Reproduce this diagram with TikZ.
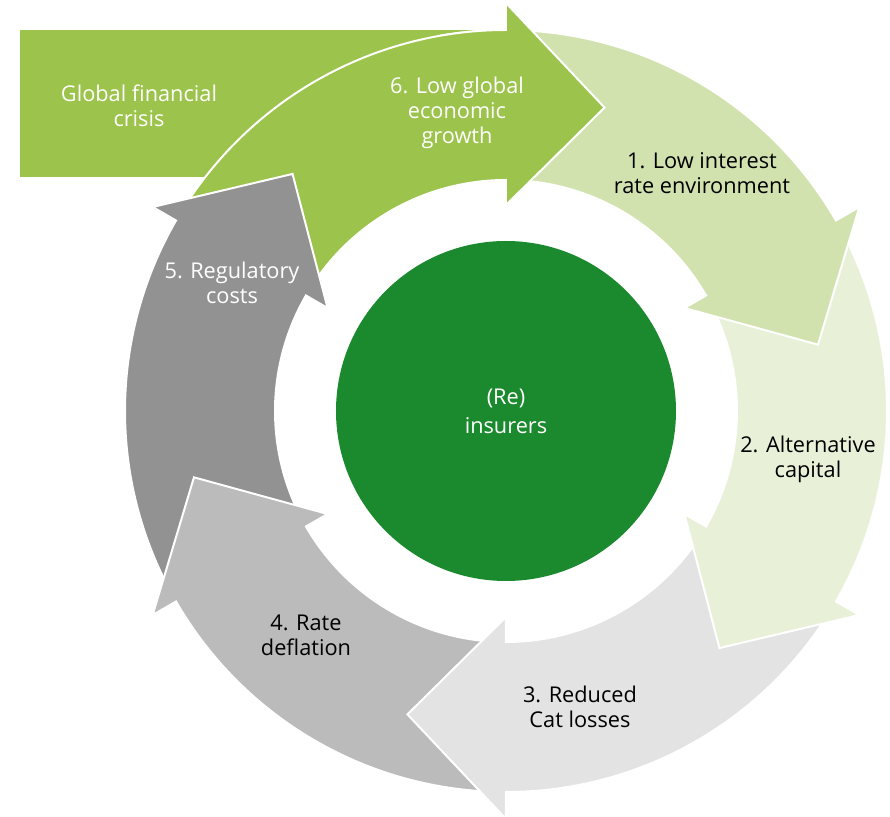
\documentclass[tikz,border=0pt]{standalone}
\usepackage{fontspec}
\setmainfont{Open Sans}
\definecolor{cGreen}{HTML}{9CC34B}
\definecolor{cOne}{HTML}{D2E2AE}
\definecolor{cTwo}{HTML}{E8F1D8}
\definecolor{cThree}{HTML}{E3E3E3}
\definecolor{cFour}{HTML}{BBBBBB}
\definecolor{cFive}{HTML}{929292}
\definecolor{cCore}{HTML}{1B8A2E}
\newcommand\rIn{231}
\newcommand\rOut{381}
\newcommand\bIn{206}
\newcommand\bOut{408}
\newcommand\rTip{319}
\newcommand\hSpan{18}
\newcommand\cyclearrow[2]{%
  \path[fill=#2, draw=white, line width=1.5pt, line join=miter]
    ({#1+58.5}:\rOut) arc[start angle={#1+58.5}, end angle={#1}, radius=\rOut]
    -- ({#1}:\bOut) -- ({#1-\hSpan}:\rTip) -- ({#1}:\bIn) -- ({#1}:\rIn)
    arc[start angle={#1}, end angle={#1+58.5}, radius=\rIn] -- cycle;}
\begin{document}
\begin{tikzpicture}[x=0.75pt, y=0.75pt,
  lbl/.style={align=center, inner sep=0pt, font=\fontsize{16.3}{18.75}\selectfont},
  darklbl/.style={lbl, text=black},
  lightlbl/.style={lbl, text=white}]
\useasboundingbox (-506,-406) rectangle (384,411);
% global financial crisis band
\fill[cGreen] (-486,381) rectangle (0,234);
% cycle arrows (each head lies over the next tail)
\cyclearrow{90}{cGreen}
\cyclearrow{150}{cFive}
\cyclearrow{-150}{cFour}
\cyclearrow{-90}{cThree}
\cyclearrow{-30}{cTwo}
\cyclearrow{30}{cOne}
\begin{scope}
  \clip (0,0) -- (60:470) arc[start angle=60, end angle=100, radius=470] -- cycle;
  \cyclearrow{90}{cGreen}
\end{scope}
% centre
\node (core) at (0,0) [circle, fill=cCore, minimum size=255pt, inner sep=0pt,
  text=white, align=center, font=\fontsize{16.3}{21.75}\selectfont] {(Re)\\insurers};
% labels
\node (gfc) at (-367,305) [lightlbl] {Global financial\\crisis};
\node (a6) at (-49,298) [lightlbl] {6. Low global\\economic\\growth};
\node (a1) at (196,238) [darklbl] {1. Low interest\\rate environment};
\node (a2) at (302,-48) [darklbl] {2. Alternative\\capital};
\node (a3) at (74,-296) [darklbl] {3. Reduced\\Cat losses};
\node (a4) at (-200,-224) [darklbl] {4. Rate\\deflation};
\node (a5) at (-274,128) [lightlbl] {5. Regulatory\\costs};
\end{tikzpicture}
\end{document}
